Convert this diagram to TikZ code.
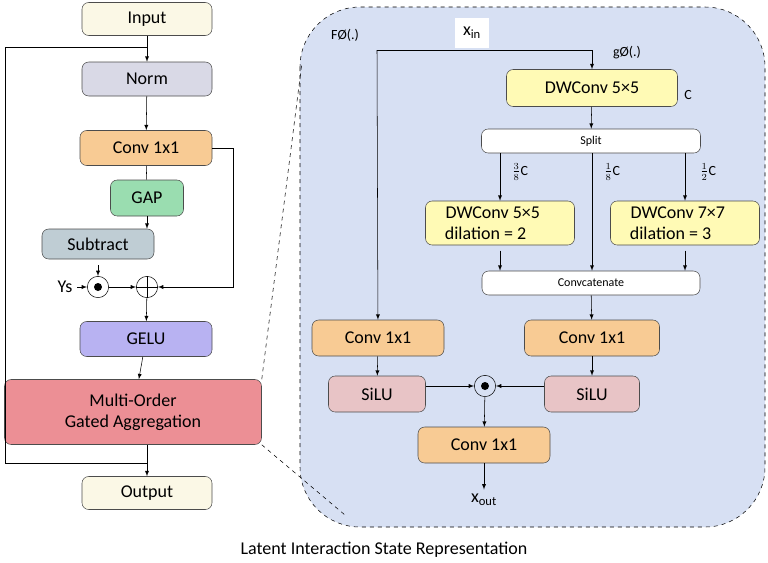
\documentclass[tikz,border=0pt]{standalone}
\usepackage{fontspec}
\setmainfont{Carlito}
\usetikzlibrary{calc}
\definecolor{cinput}{HTML}{FBF8E6}
\definecolor{cnorm}{HTML}{D9D9E6}
\definecolor{cconv}{HTML}{F8CB94}
\definecolor{cgap}{HTML}{9ADDB0}
\definecolor{csub}{HTML}{BFCDD4}
\definecolor{cgelu}{HTML}{B8B2F2}
\definecolor{cmoga}{HTML}{EC8F95}
\definecolor{cdw}{HTML}{FFFAB5}
\definecolor{csilu}{HTML}{E8C4C6}
\definecolor{cpanel}{HTML}{D7E0F3}
\tikzset{
	mogapicture/.style = {
		x = 0.75pt,
		y = -0.75pt,
		font = \fontsize{13.5}{16}\selectfont,
		arrow/.style = {
			draw,
			-latex,
		}
	},
	block/.style = {
		draw = black!70,
		rounded corners = 5pt,
		align = center,
		inner sep = 0pt
	},
	op/.style = {
		circle,
		draw,
		minimum size = 16pt,
		inner sep = 0pt
	},
	small/.style = {
		font = \fontsize{10.5}{12}\selectfont
	}
}
\newcommand{\blk}[6]{\node[block, fill=#5, minimum width=#3*0.75pt, minimum height=#4*0.75pt] (#1) at (#2) {#6};}
\begin{document}
\begin{tikzpicture}[mogapicture]
	\useasboundingbox (0,0) rectangle (768,562);
	% panel
	\draw[dashed, fill = cpanel, rounded corners = 45pt] (300,7) rectangle (765,527);
	\coordinate (p1) at (302,62);
	\coordinate (p2) at (345,515);

	% left column
	\blk{in}{147,19}{130}{33}{cinput}{Input}
	\blk{norm}{147,79}{130}{34}{cnorm}{Norm}
	\blk{conv}{146,148}{132}{35}{cconv}{Conv 1x1}
	\blk{gap}{147,198}{73}{36}{cgap}{GAP}
	\blk{sub}{98,244}{112}{30}{csub}{Subtract}
	\node[op] (mul) at (98,287) {};
	\fill (mul) circle (3pt);
	\node[op] (add) at (147,287) {};
	\draw (add.north) -- (add.south) (add.west) -- (add.east);
	\node (ys) at (65,287) {Ys};
	\blk{gelu}{146,339}{132}{35}{cgelu}{GELU}
	\blk{moga}{133,412}{257}{65}{cmoga}{Multi-Order\\Gated Aggregation}
	\blk{out}{147,493}{130}{33}{cinput}{Output}

	\coordinate (r1) at (147,47);
	\coordinate (r2) at (5,463);
	\coordinate (r3) at (147,463);
	\coordinate (s1) at (98,265);

	\draw[dashed] (moga.north east) -- (p1);
	\draw[dashed] (moga.south east) -- (p2);

	\begin{scope}[every path/.style = arrow]
		\path (in) -- (norm);
		\path (norm) -- (conv);
		\draw[-] (conv) -- (gap);
		\path (gap.south) -- (gap.south |- sub.north);
		\path (s1) -- (mul);
		\path (ys) -- (mul);
		\path (mul) -- (add);
		\path (conv.east) -| ++(21,0) |- (add.east);
		\path (add) -- (gelu);
		\path (gelu) -- (moga);
		\path (moga.south -| out) -- (out);
		\draw[-] (r1) -| (r2) -- (r3);
	\end{scope}

	% right panel
	\node[fill = white, minimum width = 26pt, minimum height = 23pt] (xin) at (472,33) {x\textsubscript{in}};
	\node[small] (f) at (345,35) {F\O(.)};
	\node[small] (g) at (627,53) {g\O(.)};
	\blk{dw}{592,88}{171}{37}{cdw}{DWConv 5×5}
	\node[small] (c) at (688,95) {C};
	\blk{split}{591,141}{219}{24}{white}{\small Split}
	\blk{dwa}{500,223}{149}{44}{cdw}{DWConv 5×5\hspace{0.8em}\null\\dilation = 2\hspace{1.6em}\null}
	\blk{dwb}{685,223}{149}{44}{cdw}{DWConv 7×7\hspace{0.8em}\null\\dilation = 3\hspace{1.6em}\null}
	\blk{cat}{591,283}{218}{24}{white}{\small Convcatenate}
	\blk{convr}{592,338}{135}{36}{cconv}{Conv 1x1}
	\blk{silur}{592,394}{95}{36}{csilu}{SiLU}
	\blk{convl}{378,338}{132}{36}{cconv}{Conv 1x1}
	\blk{silul}{377,394}{97}{36}{csilu}{SiLU}
	\node[op] (mulr) at (485,386) {};
	\fill (mulr) circle (3pt);
	\blk{convo}{484,445}{132}{36}{cconv}{Conv 1x1}
	\node (xout) at (484,500) {x\textsubscript{out}};

	\node[small] (fa) at (520,172) {$\frac{3}{8}$C};
	\node[small] (fb) at (612,172) {$\frac{1}{8}$C};
	\node[small] (fc) at (708,172) {$\frac{1}{2}$C};

	\coordinate (t1) at (377,50);
	\coordinate (t2) at (592,50);

	\begin{scope}[every path/.style = arrow]
		\draw[-] (t1) -- (t2);
		\path (t2) -- (dw);
		\path (t1) -- (convl);
		\path (dw) -- (split);
		\path (split.south -| dwa) -- (dwa);
		\path (split.south -| dw) -- (cat.north -| dw);
		\path (split.south -| dwb) -- (dwb);
		\path ([yshift=-4pt]dwa.south) -- (cat.north -| dwa);
		\path ([yshift=-4pt]dwb.south) -- (cat.north -| dwb);
		\path (cat) -- (convr);
		\path (convr) -- (silur);
		\path (convl) -- (silul);
		\path (silul.east |- mulr) -- (mulr);
		\path (silur.west |- mulr) -- (mulr);
		\path (mulr) -- (convo);
		\path (convo) -- (xout);
	\end{scope}

	\node (cap) at (384,550) {Latent Interaction State Representation};
\end{tikzpicture}
\end{document}
